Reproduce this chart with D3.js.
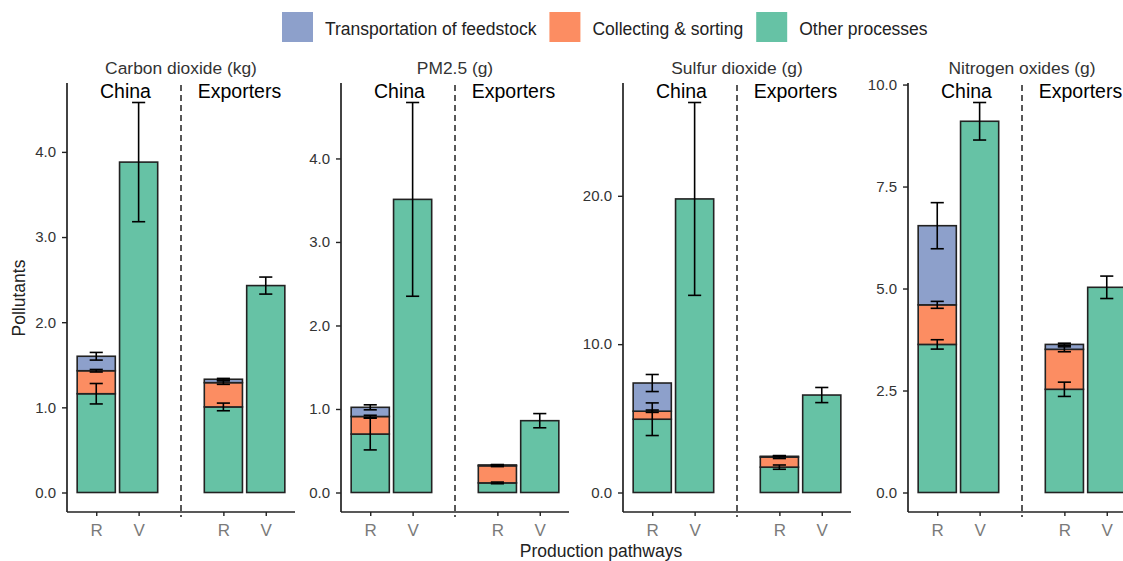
<!DOCTYPE html>
<html>
<head>
<meta charset="utf-8">
<script src="https://cdn.jsdelivr.net/npm/d3@7"></script>
<style>
  html, body { margin: 0; padding: 0; background: #ffffff; }
  svg { display: block; font-family: "Liberation Sans", Arial, sans-serif; }
</style>
</head>
<body>
<svg id="chart" width="1123" height="561"></svg>
<script>
// ---------------- DATA ----------------
const panelTitles = ["Carbon dioxide (kg)", "PM2.5 (g)", "Sulfur dioxide (g)", "Nitrogen oxides (g)"];
const regions = ["China", "Exporters"];
const pathways = ["R", "V"];
const components = ["Transportation of feedstock", "Collecting & sorting", "Other processes"];
const componentColors = ["#8DA0CB", "#FC8D62", "#66C2A5"];

// bar order in every panel: China-R, China-V, Exporters-R, Exporters-V
const otherValues = [
  [1.16, 3.88, 1.005, 2.43],
  [0.70, 3.51, 0.115, 0.86],
  [4.94, 19.79, 1.71, 6.57],
  [3.63, 9.10, 2.53, 5.03]
];
const collectingValues = [
  [0.27, 0, 0.285, 0],
  [0.21, 0, 0.205, 0],
  [0.54, 0, 0.68, 0],
  [0.97, 0, 0.98, 0]
];
const transportValues = [
  [0.17, 0, 0.04, 0],
  [0.11, 0, 0.01, 0],
  [1.90, 0, 0.05, 0],
  [1.94, 0, 0.12, 0]
];
const otherErrors = [
  [0.12, 0.70, 0.045, 0.10],
  [0.19, 1.16, 0.01, 0.085],
  [1.10, 6.50, 0.145, 0.51],
  [0.115, 0.46, 0.175, 0.275]
];
const collectingErrors = [
  [0.015, 0, 0.02, 0],
  [0.015, 0, 0.01, 0],
  [0.08, 0, 0.10, 0],
  [0.085, 0, 0.06, 0]
];
const transportErrors = [
  [0.045, 0, 0.01, 0],
  [0.03, 0, 0.005, 0],
  [0.575, 0, 0.03, 0],
  [0.565, 0, 0.03, 0]
];
const yTickValues = [
  [0, 1, 2, 3, 4],
  [0, 1, 2, 3, 4],
  [0, 10, 20],
  [0, 2.5, 5, 7.5, 10]
];
const xAxisTitle = "Production pathways";
const yAxisTitle = "Pollutants";

// ---------------- LAYOUT ----------------
const svg = d3.select("#chart");
const panelLeft = [67, 341, 623, 908];
const panelWidth = 228;
const plotTop = 83, plotBottom = 512;
const barWidth = 0.9;   // in x units
const capWidth = 0.31;  // in x units
const ink = "#222";

const keysBottomUp = ["Other processes", "Collecting & sorting", "Transportation of feedstock"];
const colorOf = d3.scaleOrdinal().domain(components).range(componentColors);

panelTitles.forEach((title, p) => {
  const rows = [];
  regions.forEach((reg, ri) => {
    pathways.forEach((pw, pi) => {
      const i = ri * 2 + pi;
      rows.push({
        region: reg, pathway: pw, pos: ri * 3 + pi + 1,
        "Other processes": otherValues[p][i],
        "Collecting & sorting": collectingValues[p][i],
        "Transportation of feedstock": transportValues[p][i],
        err: {
          "Other processes": otherErrors[p][i],
          "Collecting & sorting": collectingErrors[p][i],
          "Transportation of feedstock": transportErrors[p][i]
        }
      });
    });
  });
  const stacked = d3.stack().keys(keysBottomUp)(rows);

  const errs = [];
  stacked.forEach(layer => {
    layer.forEach(seg => {
      const row = seg.data;
      if (row[layer.key] > 0) {
        errs.push({ pos: row.pos, top: seg[1], e: row.err[layer.key] });
      }
    });
  });
  const M = d3.max(errs, d => d.top + d.e);

  const x = d3.scaleLinear().domain([0.31, 5.69]).range([panelLeft[p], panelLeft[p] + panelWidth]);
  const y = d3.scaleLinear().domain([-0.05 * M, 1.05 * M]).range([plotBottom, plotTop]);

  const g = svg.append("g");

  // dashed separator
  g.append("line")
    .attr("x1", x(3)).attr("x2", x(3))
    .attr("y1", plotTop + 2).attr("y2", plotBottom + 5)
    .attr("stroke", ink).attr("stroke-width", 1.5)
    .attr("stroke-dasharray", "6,4");

  // bars
  stacked.forEach(layer => {
    g.append("g").selectAll("rect")
      .data(layer.filter(s => s.data[layer.key] > 0))
      .join("rect")
      .attr("x", s => x(s.data.pos - barWidth / 2))
      .attr("width", s => x(s.data.pos + barWidth / 2) - x(s.data.pos - barWidth / 2))
      .attr("y", s => y(s[1]))
      .attr("height", s => y(s[0]) - y(s[1]))
      .attr("fill", colorOf(layer.key))
      .attr("stroke", ink)
      .attr("stroke-width", 1.6);
  });

  // error bars
  const eg = g.append("g").attr("stroke", "#000").attr("stroke-width", 1.6).attr("fill", "none");
  errs.forEach(d => {
    eg.append("line").attr("x1", x(d.pos)).attr("x2", x(d.pos))
      .attr("y1", y(d.top - d.e)).attr("y2", y(d.top + d.e));
    [d.top - d.e, d.top + d.e].forEach(v => {
      eg.append("line")
        .attr("x1", x(d.pos - capWidth / 2)).attr("x2", x(d.pos + capWidth / 2))
        .attr("y1", y(v)).attr("y2", y(v));
    });
  });

  // y axis
  const yAxis = d3.axisLeft(y).tickValues(yTickValues[p]).tickFormat(d3.format(".1f")).tickSize(5).tickPadding(6);
  const ya = g.append("g").attr("transform", `translate(${panelLeft[p]},0)`).call(yAxis);
  ya.select(".domain").attr("d", `M0,${plotTop}V${plotBottom}`).attr("stroke", ink).attr("stroke-width", 1.7);
  ya.selectAll(".tick line").attr("stroke", ink).attr("stroke-width", 1.4);
  ya.selectAll(".tick text").attr("font-size", 15).attr("fill", "#333")
    .attr("font-family", "Liberation Sans, Arial, sans-serif");

  // x axis
  const xAxis = d3.axisBottom(x).tickValues(rows.map(r => r.pos))
    .tickFormat((d, i) => rows[i].pathway).tickSize(4).tickPadding(8);
  const xa = g.append("g").attr("transform", `translate(0,${plotBottom})`).call(xAxis);
  xa.select(".domain").attr("d", `M${panelLeft[p]},0H${panelLeft[p] + panelWidth}`).attr("stroke", ink).attr("stroke-width", 1.7);
  xa.selectAll(".tick line").attr("stroke", ink).attr("stroke-width", 1.4);
  xa.selectAll(".tick text").attr("font-size", 17).attr("fill", "#7a7a7a")
    .attr("font-family", "Liberation Sans, Arial, sans-serif");

  // strip title
  g.append("text").attr("x", x(3)).attr("y", 74)
    .attr("text-anchor", "middle").attr("font-size", 17.4).attr("fill", "#333")
    .text(title);

  // region labels
  const regionX = [1.69, 4.38];
  regions.forEach((reg, ri) => {
    g.append("text").attr("x", x(regionX[ri])).attr("y", 98)
      .attr("text-anchor", "middle").attr("font-size", 19.5).attr("fill", "#000")
      .text(reg);
  });
});

// axis titles
svg.append("text").attr("x", 601).attr("y", 557).attr("text-anchor", "middle")
  .attr("font-size", 17.5).attr("fill", "#222").text(xAxisTitle);
svg.append("text").attr("transform", "translate(25,298) rotate(-90)").attr("text-anchor", "middle")
  .attr("font-size", 17.5).attr("fill", "#222").text(yAxisTitle);

// legend
const legend = svg.append("g");
let lx = 282;
components.forEach((c, i) => {
  legend.append("rect").attr("x", lx).attr("y", 12).attr("width", 31).attr("height", 30)
    .attr("fill", componentColors[i]);
  const t = legend.append("text").attr("x", lx + 43).attr("y", 35)
    .attr("font-size", 17.5).attr("fill", "#222").text(c);
  lx += 43 + t.node().getComputedTextLength() + 13;
});
</script>
</body>
</html>
